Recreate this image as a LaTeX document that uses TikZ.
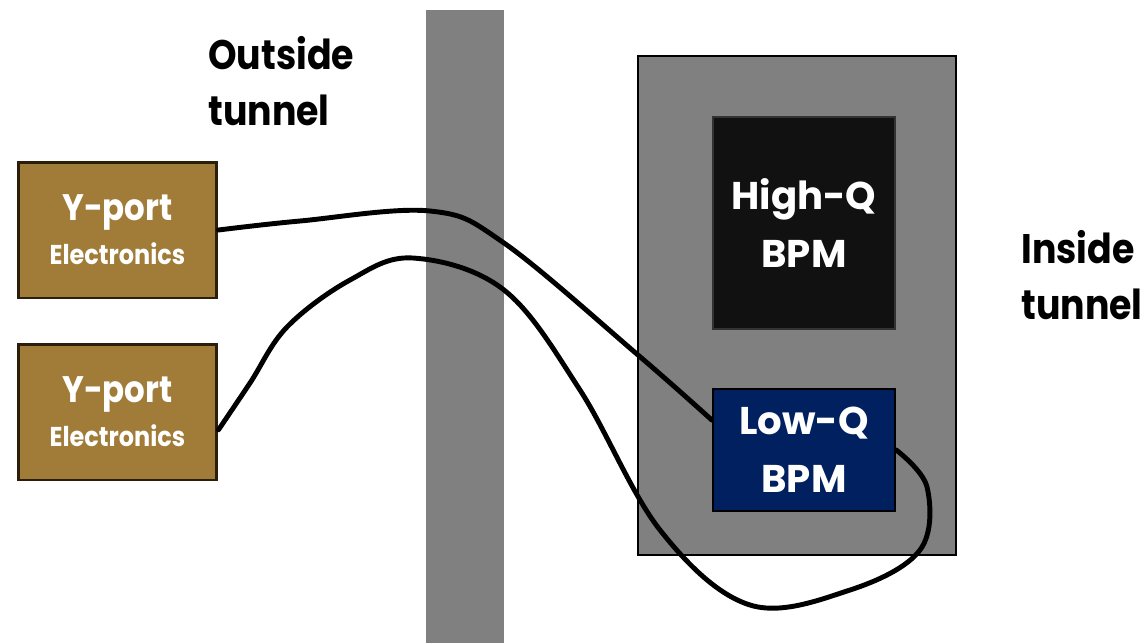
\documentclass[tikz,border=0pt]{standalone}
\usepackage{fontspec}
\setmainfont{Poppins}
\newfontfamily\narrowfont{Poppins}[FakeStretch=0.88]
\usetikzlibrary{positioning}
\definecolor{wallcolor}{RGB}{128,128,128}
\definecolor{portcolor}{RGB}{160,124,56}
\definecolor{portedge}{RGB}{43,31,12}
\definecolor{highqcolor}{RGB}{17,17,17}
\definecolor{lowqcolor}{RGB}{0,32,96}

\begin{document}
\begin{tikzpicture}[
  x=0.02cm,y=-0.02cm,
  cable/.style={line width=2.8pt,draw=black,line cap=round},
  portbox/.style={fill=portcolor,draw=portedge,line width=1.7pt,minimum width=3.98cm,minimum height=2.72cm,text=white,align=center,inner sep=0pt,font=\narrowfont\bfseries},
  bpmbox/.style={draw=black,line width=1.4pt,minimum width=3.64cm,text=white,align=center,inner sep=0pt,font=\bfseries\fontsize{22}{33}\selectfont},
  sidelabel/.style={align=left,inner sep=0pt,font=\narrowfont\bfseries\fontsize{23.5}{32}\selectfont},
]
\useasboundingbox (0,0) rectangle (1148,643);

% --- WALL ---
\node[fill=wallcolor,minimum width=1.56cm,minimum height=12.66cm,inner sep=0pt] (wall) at (465,326.5) {};
\node[sidelabel,anchor=north west] (outside) at (208,36) {Outside\\tunnel};

% --- Y-PORT ELECTRONICS ---
\node[portbox] (yport1) at (117.5,230)
  {{\fontsize{21}{24}\selectfont Y-port}\\[6pt]{\fontsize{15.5}{17}\selectfont Electronics}};
\node[portbox] (yport2) at (117.5,412)
  {{\fontsize{21}{24}\selectfont Y-port}\\[6pt]{\fontsize{15.5}{17}\selectfont Electronics}};

% --- TUNNEL SIDE ---
\node[fill=wallcolor,draw=black,line width=1.5pt,minimum width=6.36cm,minimum height=9.98cm] (housing) at (797,305.5) {};
\node[bpmbox,fill=highqcolor,draw=black!80,minimum height=4.24cm] (highq) at (804,223) {High-Q\\BPM};
\node[bpmbox,fill=lowqcolor,minimum height=2.44cm] (lowq) at (804,450) {Low-Q\\BPM};
\node[sidelabel,anchor=north west] (inside) at (1021,230) {Inside\\tunnel};

% --- CABLES ---
\draw[cable] plot[smooth,tension=0.6] coordinates
  {(yport1.east) (300,221) (430,211) (504,243) (638,355) (lowq.162)};
\draw[cable] plot[smooth,tension=0.6] coordinates
  {(yport2.-10) (250,383) (287,327) (350,280) (413,258) (504,290) (580,390)
   (660,530) (750,605) (850,590) (920,550) (927,487) (lowq.east)};

\end{tikzpicture}
\end{document}
